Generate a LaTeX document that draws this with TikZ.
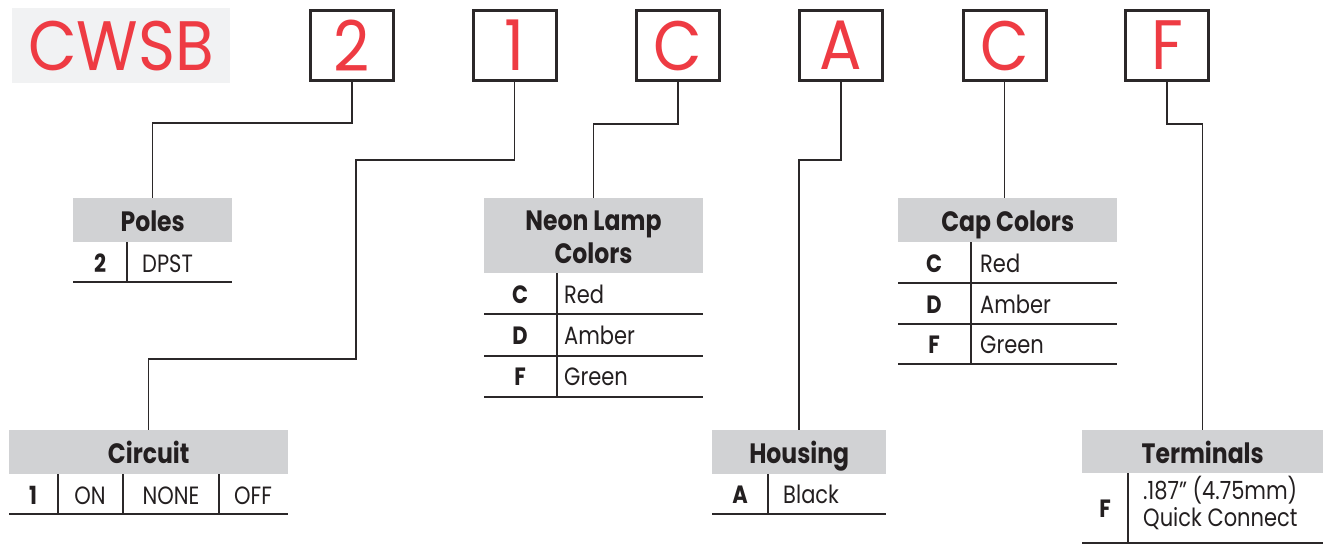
\documentclass[tikz,border=0pt]{standalone}
\usepackage{fontspec}
\setmainfont{Poppins}[FakeStretch=0.84]
\newfontfamily\codefont{Poppins}[FakeStretch=0.9]
\usepackage{tikz}
\usetikzlibrary{calc}
\definecolor{codered}{HTML}{EE3B43}
\definecolor{headgray}{HTML}{D1D2D4}
\definecolor{logogray}{HTML}{F1F2F3}
\definecolor{linegray}{HTML}{2B2829}
\definecolor{textblack}{HTML}{231F20}

\begin{document}
\begin{tikzpicture}[x=1pt, y=-1pt]
\tikzset{codebox/.style = {draw=linegray, line width=3pt, minimum width=83pt, minimum height=70pt, inner sep=0pt, text=codered, font=\codefont\fontsize{70}{70}\selectfont}}
\tikzset{headbox/.style = {fill=headgray, anchor=north west, inner sep=0pt, text height=23pt, text depth=0pt, text=textblack, font=\bfseries\fontsize{28}{32}\selectfont}}
\tikzset{headtext/.style = {anchor=base, inner sep=0pt, text=textblack, font=\bfseries\fontsize{28}{32}\selectfont}}
\tikzset{keytext/.style = {anchor=base, inner sep=0pt, text=textblack, font=\bfseries\fontsize{25}{29}\selectfont}}
\tikzset{celltext/.style = {anchor=base, inner sep=0pt, text=textblack, font=\fontsize{25}{29}\selectfont}}
\tikzset{valtext/.style = {celltext, anchor=base west}}
\tikzset{wire/.style = {draw=linegray, line width=1.5pt}}
\tikzset{tablerule/.style = {draw=linegray, line width=1.5pt}}
\useasboundingbox (0,0) rectangle (1327,544);

% part number
\node[fill=logogray, minimum width=218pt, minimum height=75pt, inner sep=0pt, anchor=north west, text=codered, font=\codefont\fontsize{70}{70}\selectfont] (logo) at (12,8) {CWSB};
\node[codebox] (b2) at (352,45.5) {2};
\node[codebox] (b1) at (514.5,45.5) {1};
\node[codebox] (bC) at (678,45.5) {C};
\node[codebox] (bA) at (841,45.5) {A};
\node[codebox] (bCap) at (1004.5,45.5) {C};
\node[codebox] (bF) at (1167,45.5) {F};

% table heads
\node[headbox, minimum width=159pt, minimum height=44pt] (poles) at (73,198) {Poles};
\node[headbox, minimum width=279pt, minimum height=44pt] (circuit) at (9,430) {Circuit};
\node[headbox, minimum width=219pt, minimum height=75pt] (neon) at (484,198) {};
\node[headtext] (neon1) at (593.5,230) {Neon Lamp};
\node[headtext] (neon2) at (593.5,263) {Colors};
\node[headbox, minimum width=174pt, minimum height=44pt] (housing) at (712,430) {Housing};
\node[headbox, minimum width=219pt, minimum height=44pt] (cap) at (898,198) {Cap Colors};
\node[headbox, minimum width=241pt, minimum height=43pt] (term) at (1082,430) {Terminals};

% connectors
\coordinate (jog1) at (356,359);
\draw[wire] (b2.south) -- ++(0,41) -| (poles.north);
\draw[wire] (b1.south) -- ++(0,78) -| (jog1) -| (circuit.north);
\draw[wire] (bC.south) -- ++(0,42) -| (neon.north);
\draw[wire] (bA.south) -- ++(0,78) -| (housing.north);
\draw[wire] (bCap.south) -- (bCap.south |- cap.north);
\draw[wire] (bF.south) -- ++(0,42) -| (term.north);

% poles
\node[keytext] (poles2) at (100,272) {2};
\node[valtext] (polesv) at (142,272) {DPST};
\draw[tablerule] (127,242) -- (127,282);
\draw[tablerule] (73,282) -- (232,282);

% circuit
\node[keytext] (circ1) at (33,504) {1};
\node[celltext] (circa) at (90,504) {ON};
\node[celltext] (circb) at (171,504) {NONE};
\node[celltext] (circc) at (253,504) {OFF};
\foreach \x in {58,123,219}
  \draw[tablerule] (\x,474) -- (\x,514);
\draw[tablerule] (9,514) -- (288,514);

% neon lamp colors
\node[keytext] (neonC) at (520,303) {C};
\node[valtext] (neonCv) at (564,303) {Red};
\node[keytext] (neonD) at (520,344) {D};
\node[valtext] (neonDv) at (564,344) {Amber};
\node[keytext] (neonF) at (520,385) {F};
\node[valtext] (neonFv) at (564,385) {Green};
\draw[tablerule] (557,273) -- (557,397);
\foreach \y in {314,356,397}
  \draw[tablerule] (484,\y) -- (703,\y);

% housing
\node[keytext] (housA) at (740,503) {A};
\node[valtext] (housAv) at (783,503) {Black};
\draw[tablerule] (768,474) -- (768,514);
\draw[tablerule] (712,514) -- (886,514);

% cap colors
\node[keytext] (capC) at (934,272) {C};
\node[valtext] (capCv) at (980,272) {Red};
\node[keytext] (capD) at (934,313) {D};
\node[valtext] (capDv) at (980,313) {Amber};
\node[keytext] (capF) at (934,353) {F};
\node[valtext] (capFv) at (980,353) {Green};
\draw[tablerule] (971,242) -- (971,364);
\foreach \y in {283,324,364}
  \draw[tablerule] (898,\y) -- (1117,\y);

% terminals
\node[keytext] (termF) at (1105,517) {F};
\node[valtext] (termFv) at (1143,499) {.187” (4.75mm)};
\node[valtext] (termFw) at (1143,526) {Quick Connect};
\draw[tablerule] (1128,473) -- (1128,543);
\draw[tablerule] (1082,543) -- (1323,543);
\end{tikzpicture}
\end{document}
